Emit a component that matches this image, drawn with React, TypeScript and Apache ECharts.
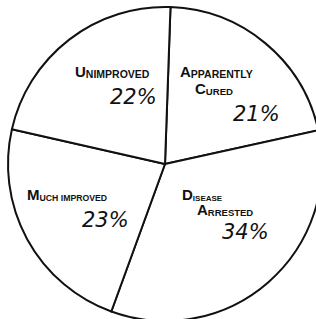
import React, { useEffect, useRef } from "react";
import * as echarts from "echarts";

// Data
const categories = ["Apparently Cured", "Disease Arrested", "Much improved", "Unimproved"];
const values = [21, 34, 23, 22];
// Lettering of each label: [initial capital, small capitals] per line
const labelLines: string[][][] = [
  [["A", "PPARENTLY"], ["C", "URED"]],
  [["D", "ISEASE"], ["A", "RRESTED"]],
  [["M", "UCH IMPROVED"]],
  [["U", "NIMPROVED"]],
];

// Label layout (positions / styles only)
const labelSpec = [
  { x: 180, y: 62, indents: [0, 15], small: [10.5, 9.6], lh: [17, 17], pctIndent: 53, pctLh: 36 },
  { x: 182, y: 185, indents: [0, 15], small: [8, 9.5], lh: [17, 15], pctIndent: 40, pctLh: 30 },
  { x: 27, y: 185, indents: [0], small: [8.7], lh: [17], pctIndent: 55, pctLh: 36 },
  { x: 75, y: 62, indents: [0], small: [10.5], lh: [17], pctIndent: 35, pctLh: 36 },
];

const CAP_FONT = "'Liberation Sans', Arial, sans-serif";
const PCT_FONT = "'DejaVu Sans', sans-serif";

function buildLabel(i: number) {
  const spec = labelSpec[i];
  const rich: Record<string, any> = {};
  const parts: string[] = [];
  labelLines[i].forEach((ln, k) => {
    const lh = spec.lh[k];
    rich["i" + k] = { width: Math.max(spec.indents[k], 0.01), lineHeight: lh, fontSize: 1 };
    rich["c" + k] = {
      fontFamily: CAP_FONT, fontWeight: "bold", fontSize: 15, lineHeight: lh,
      color: "#111", verticalAlign: "bottom",
    };
    rich["s" + k] = {
      fontFamily: CAP_FONT, fontWeight: "bold", fontSize: spec.small[k], lineHeight: lh,
      color: "#111", verticalAlign: "bottom",
    };
    parts.push(`{i${k}| }{c${k}|${ln[0]}}{s${k}|${ln[1]}}`);
  });
  rich.ip = { width: spec.pctIndent, lineHeight: spec.pctLh, fontSize: 1 };
  rich.p = {
    fontFamily: PCT_FONT, fontStyle: "italic", fontSize: 21, lineHeight: spec.pctLh,
    color: "#111",
  };
  parts.push(`{ip| }{p|${values[i]}%}`);
  return { formatter: parts.join("\n"), rich };
}

export default function App() {
  const ref = useRef<HTMLDivElement>(null);
  useEffect(() => {
    if (!ref.current) return;
    const chart = echarts.init(ref.current, undefined, { renderer: "svg" });
    chart.setOption({
      animation: false,
      backgroundColor: "#ffffff",
      series: [
        {
          type: "pie",
          center: [165, 164],
          radius: 157,
          startAngle: 88,
          clockwise: true,
          avoidLabelOverlap: false,
          silent: true,
          itemStyle: { color: "#ffffff", borderColor: "#111", borderWidth: 2 },
          label: { show: true, position: "inside", color: "#111" },
          labelLine: { show: false },
          emphasis: { disabled: true },
          labelLayout: (params: any) => {
            const s = labelSpec[params.dataIndex];
            return { x: s.x, y: s.y, align: "left", verticalAlign: "top" };
          },
          data: categories.map((name, i) => ({
            name,
            value: values[i],
            label: buildLabel(i),
          })),
        },
      ],
      graphic: [
        { type: "circle", shape: { cx: 189, cy: 243, r: 1.6 }, style: { fill: "#111" } },
      ],
    });
    return () => chart.dispose();
  }, []);
  return (
    <div
      ref={ref}
      style={{ position: "absolute", left: 0, top: 0, width: 316, height: 319 }}
    />
  );
}
